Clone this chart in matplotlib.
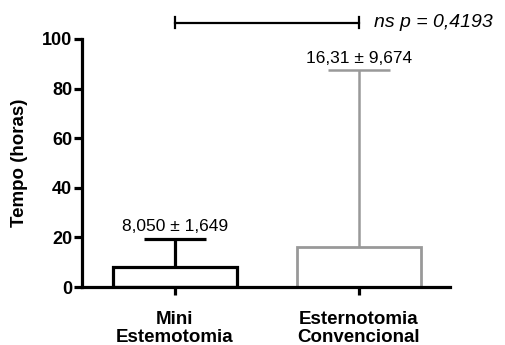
import matplotlib
matplotlib.use("Agg")
import matplotlib.pyplot as plt

categories = ["Mini\nEstemotomia", "Esternotomia\nConvencional"]
means = [8.05, 16.31]
error_tops = [19.5, 87.3]
value_labels = ["8,050 ± 1,649", "16,31 ± 9,674"]
colors = ["#000000", "#999999"]
yticks = [0, 20, 40, 60, 80, 100]
sig_text = "ns p = 0,4193"

plt.rcParams['font.family'] = ['Liberation Sans', 'DejaVu Sans']

fig = plt.figure(figsize=(5.05, 3.45), dpi=100)
ax = fig.add_axes([0.162, 0.168, 0.729, 0.719])

x = list(range(len(categories)))
bw = 0.674
for i in x:
    ax.bar(i, means[i], width=bw, color="white", edgecolor=colors[i],
           linewidth=2.3 if i == 0 else 2.0, zorder=2)
    lw = 2.3 if i == 0 else 1.8
    ax.vlines(i, means[i], error_tops[i], color=colors[i], linewidth=lw, zorder=1)
    ax.hlines(error_tops[i], i - bw / 4, i + bw / 4, color=colors[i], linewidth=lw)
    ax.text(i, error_tops[i] + 2.0, value_labels[i], ha="center", va="bottom",
            fontsize=12.5)

ax.set_xlim(-0.505, 1.495)
ax.set_ylim(0, 100)
ax.set_yticks(yticks)
ax.set_xticks(x)
ax.set_xticklabels(categories, fontsize=13.5, fontweight="bold", linespacing=1.1)
ax.set_yticklabels([str(t) for t in yticks], fontsize=13, fontweight="bold")
ax.set_ylabel("Tempo (horas)", fontsize=13.5, fontweight="bold")
ax.yaxis.set_label_coords(-0.145, 0.5)

for s in ["top", "right"]:
    ax.spines[s].set_visible(False)
for s in ["left", "bottom"]:
    ax.spines[s].set_linewidth(2.3)
ax.tick_params(axis="both", width=2.3, length=6, direction="out", pad=1)
ax.tick_params(axis="x", pad=11)

# significance bracket
ysig = 106.5
ax.plot([x[0], x[1]], [ysig, ysig], color="black", linewidth=1.6, clip_on=False)
for xi in x:
    ax.plot([xi, xi], [ysig - 2.2, ysig + 2.2], color="black", linewidth=1.6, clip_on=False)
ax.text(x[1] + 0.085, ysig, sig_text, ha="left", va="center", fontsize=14,
        style="italic")

fig.savefig("out.png", dpi=100)
